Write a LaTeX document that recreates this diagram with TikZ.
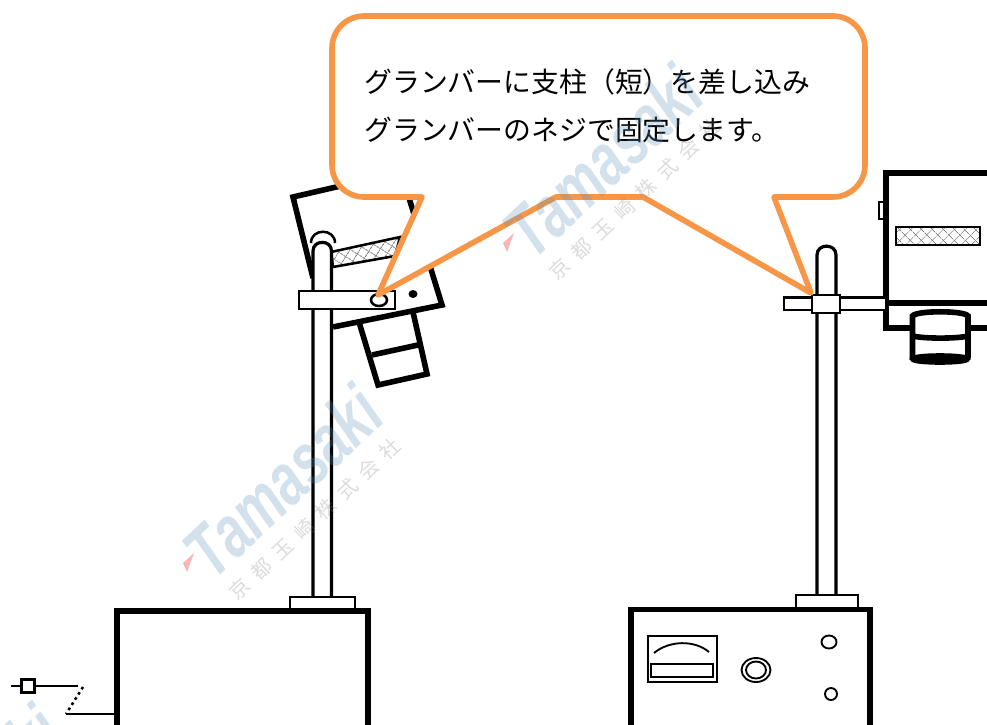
\documentclass[tikz,border=0pt]{standalone}
\usepackage{fontspec}
\usepackage{xcolor}
\usetikzlibrary{patterns.meta}
\newfontfamily\jpfont{Noto Sans CJK JP}
\newfontfamily\wmfont{Liberation Sans}
\definecolor{noteorange}{HTML}{F79646}
\definecolor{wmblue}{HTML}{5B93BC}
\definecolor{wmpink}{HTML}{F4A6A6}
\tikzset{heavy/.style={line width=4.2pt, line join=miter}}
\tikzset{medium/.style={line width=2.4pt}}
\tikzset{slim/.style={line width=1.9pt}}
\tikzset{fine/.style={line width=1.4pt}}
\tikzset{hatchband/.style={
    preaction={pattern={Lines[angle=#1+45, distance=6.5pt, line width=0.7pt]}, pattern color=gray},
    preaction={pattern={Lines[angle=#1-45, distance=6.5pt, line width=0.7pt]}, pattern color=gray}}}
\begin{document}
\begin{tikzpicture}[x=0.75pt, y=-0.75pt]
    \clip (0, 0) rectangle (987, 724);
    \fill [white] (0, 0) rectangle (987, 724);

    \coordinate (LCamLow) at (313, 278);
    \coordinate (LCamNW) at (293, 197);
    \coordinate (LCamNE) at (401, 172);
    \coordinate (LCamSE) at (442, 305);
    \coordinate (LCamSW) at (333, 327);
    \coordinate (NoteTipL) at (378, 295);
    \coordinate (NoteTipR) at (811, 293);

    \draw [slim] (311, 243) to [out=90, in=90, looseness=1.6] (335, 243);
    \draw [heavy, line cap=round, fill=white] (359, 322) -- (378, 385) -- (427, 374) -- (413, 312);
    \draw [heavy] (372, 355) -- (418, 345);
    \draw [heavy] (LCamLow) -- (LCamNW) -- (LCamNE) -- (LCamSE) -- (LCamSW);
    \draw [slim, hatchband=13] (331, 252) -- (400, 237) -- (395, 256) -- (333, 267) -- cycle;
    \fill (413, 294) ellipse [x radius=4.5, y radius=4];

    \draw [medium, fill=white] (313, 597) -- (313, 251)
        to [out=90, in=90, looseness=1.6] (331.5, 251) -- (331.5, 597);
    \draw [slim, fill=white] (299, 291) rectangle (395, 309);
    \draw [slim] (379, 300) ellipse [x radius=8, y radius=6];
    \draw [fine, fill=white] (290, 597) rectangle (355, 610);
    \draw [heavy] (117, 730) -- (117, 611) -- (368, 611) -- (368, 730);

    \draw [heavy] (990, 173) -- (886, 173) -- (886, 328) -- (990, 328);
    \draw [heavy] (886, 303) -- (990, 303);
    \draw [fine] (885, 202) -- (879, 202) -- (879, 219) -- (885, 219);
    \draw [slim, hatchband=0] (896, 227) rectangle (980, 245);
    \draw [heavy, fill=white] (912.5, 358) -- (912.5, 316)
        to [out=60, in=120, looseness=0.3] (968, 316) -- (968, 358);
    \draw [heavy] (913, 336) to [out=-15, in=195, looseness=0.5] (968, 336);
    \draw [heavy, fill=black] (940, 359) ellipse [x radius=27, y radius=3];

    \draw [medium, fill=white] (817, 597) -- (817, 255)
        to [out=90, in=90, looseness=1.6] (836, 255) -- (836, 597);
    \draw [slim, fill=white] (784, 297.5) rectangle (886, 310);
    \draw [slim, fill=white] (812, 295) rectangle (840, 313);
    \draw [fine, fill=white] (796, 595) rectangle (858, 608);
    \draw [heavy] (631, 730) -- (631, 609.5) -- (870, 609.5) -- (870, 730);

    \draw [fine] (648, 636) rectangle (717, 682);
    \draw [fine] (651, 664) rectangle (713, 677);
    \draw [fine] (654, 653) to [out=40, in=140, looseness=0.9] (709, 652);
    \draw [fine] (756, 670) ellipse [x radius=14.5, y radius=12];
    \draw [fine] (756, 670) ellipse [x radius=10, y radius=8.5];
    \draw [fine] (829, 642) ellipse [x radius=7.5, y radius=6.5];
    \draw [fine] (831, 694) ellipse [x radius=6, y radius=6];

    \coordinate (WireEnd) at (11, 686);
    \coordinate (WireBreakT) at (78, 686);
    \coordinate (WireBreakB) at (66, 714);
    \coordinate (WireIn) at (115, 714);
    \node (plug) [draw, slim, fill=white, inner sep=0pt, minimum size=9.5pt] at (28, 686) {};
    \draw [slim] (WireEnd) -- (plug) -- (WireBreakT);
    \draw [slim] (WireBreakB) -- (WireIn);
    \draw [slim, dash pattern=on 2pt off 2.6pt] (83, 687) -- (WireBreakB);

    \draw [heavy, line join=round, draw=noteorange, fill=white, rounded corners=24pt]
        (600, 16) -- (865, 16) -- (865, 197) [sharp corners] -- (774, 197)
        -- (NoteTipR) -- (643, 197) -- (556, 197) -- (NoteTipL) -- (422, 197)
        [rounded corners=24pt] -- (332, 197) -- (332, 16) -- cycle;
    \node (note) [anchor=west, align=left, inner sep=0pt,
        font=\jpfont\fontsize{20.9pt}{36pt}\selectfont] at (364, 106)
        {グランバーに支柱（短）を差し込み\\グランバーのネジで固定します。};

    \foreach \wx/\wy/\wn in {0/0/a, 320/-320/b, -320/320/c} {
        \begin{scope}[shift={(\wx, \wy)}]
            \fill [wmpink, opacity=0.8] (183, 563) -- (194, 553) -- (187, 572) -- cycle;
            \node (wm\wn) [rotate=43, yscale=1.4, transform shape, text=wmblue, text opacity=0.27,
                font=\wmfont\bfseries\itshape\fontsize{39.5pt}{40pt}\selectfont] at (283, 481) {Tamasaki};
            \node (wmsub\wn) [rotate=43, text=gray, text opacity=0.28,
                font=\jpfont\fontsize{15pt}{16pt}\selectfont] at (315, 519)
                {京\hspace{7pt}都\hspace{7pt}玉\hspace{7pt}崎\hspace{7pt}株\hspace{7pt}式\hspace{7pt}会\hspace{7pt}社};
        \end{scope}
    }
\end{tikzpicture}
\end{document}
